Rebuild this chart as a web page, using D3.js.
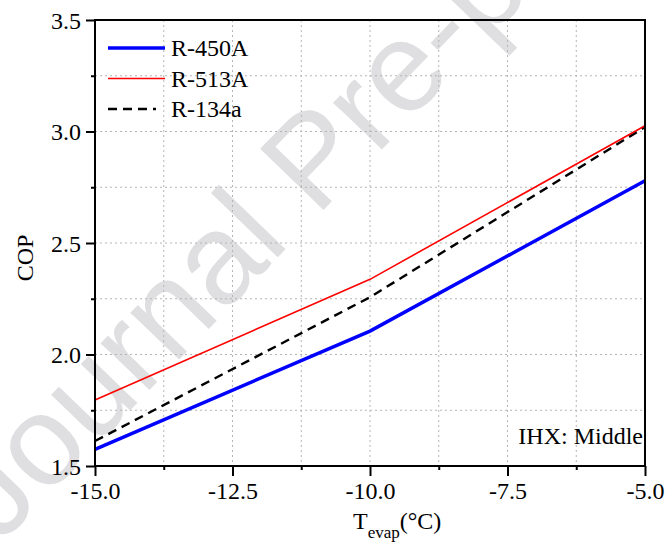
<!DOCTYPE html>
<html>
<head>
<meta charset="utf-8">
<script src="https://cdn.jsdelivr.net/npm/d3@7"></script>
<style>
  body { margin: 0; background: #fff; }
  svg { display: block; font-family: "Liberation Serif", "Times New Roman", serif; }
</style>
</head>
<body>
<div id="chart"></div>
<script>
// data
const tEvap = [-15, -10, -5];
const cop450A = [1.575, 2.105, 2.779];
const cop513A = [1.796, 2.337, 3.026];
const cop134a = [1.612, 2.257, 3.02];
const seriesNames = ["R-450A", "R-513A", "R-134a"];
const xTicks = [-15, -12.5, -10, -7.5, -5];
const xMinor = [-13.75, -11.25, -8.75, -6.25];
const yTicks = [1.5, 2.0, 2.5, 3.0, 3.5];
const yMinor = [1.75, 2.25, 2.75, 3.25];

const width = 667, height = 559;
const margin = { left: 95, right: 22, top: 20, bottom: 93 };

const svg = d3.select("#chart")
  .append("svg")
  .attr("width", width)
  .attr("height", height);

// watermark behind everything
svg.append("text")
  .attr("transform", "translate(0,545) rotate(-46)")
  .attr("font-family", "'Liberation Sans', Arial, sans-serif")
  .attr("font-size", 128)
  .attr("fill", "#dfdfe1")
  .text("Journal Pre-proof");

const x = d3.scaleLinear().domain([-15, -5]).range([margin.left, width - margin.right]);
const y = d3.scaleLinear().domain([1.5, 3.5]).range([height - margin.bottom, margin.top]);

// dotted grid (major + minor)
const grid = svg.append("g")
  .attr("stroke", "#b4b4b4")
  .attr("stroke-width", 1)
  .attr("stroke-dasharray", "2,3");

grid.selectAll(".gx")
  .data(xTicks.slice(1, -1).concat(xMinor))
  .enter()
  .append("line")
  .attr("x1", d => x(d)).attr("x2", d => x(d))
  .attr("y1", y(3.5)).attr("y2", y(1.5));

grid.selectAll(".gy")
  .data(yTicks.slice(1, -1).concat(yMinor))
  .enter()
  .append("line")
  .attr("x1", x(-15)).attr("x2", x(-5))
  .attr("y1", d => y(d)).attr("y2", d => y(d));

// lines
const line = d3.line()
  .x(d => x(d[0]))
  .y(d => y(d[1]));

const series = [
  { name: seriesNames[0], values: cop450A, color: "#0000ff", w: 3.5, dash: null },
  { name: seriesNames[1], values: cop513A, color: "#ff0000", w: 1.6, dash: null },
  { name: seriesNames[2], values: cop134a, color: "#000000", w: 2.4, dash: "9,6" }
];

svg.append("g")
  .selectAll("path")
  .data(series.slice().reverse())
  .enter()
  .append("path")
  .attr("fill", "none")
  .attr("stroke", d => d.color)
  .attr("stroke-width", d => d.w)
  .attr("stroke-dasharray", d => d.dash)
  .attr("d", d => line(tEvap.map((t, i) => [t, d.values[i]])));

// axes
const fmt = d => d.toFixed(1);

svg.append("g")
  .attr("transform", `translate(0,${y(1.5)})`)
  .call(d3.axisBottom(x).tickValues(xTicks).tickFormat(fmt).tickSize(10).tickPadding(6));

svg.append("g")
  .attr("transform", `translate(0,${y(1.5)})`)
  .call(d3.axisBottom(x).tickValues(xMinor).tickFormat("").tickSize(4));

const yAxis = svg.append("g")
  .attr("transform", `translate(${x(-15)},0)`)
  .call(d3.axisLeft(y).tickValues(yTicks).tickFormat(fmt).tickSize(9).tickPadding(5));

svg.append("g")
  .attr("transform", `translate(${x(-15)},0)`)
  .call(d3.axisLeft(y).tickValues(yMinor).tickFormat("").tickSize(4));

svg.selectAll(".domain").remove();
svg.selectAll(".tick line").attr("stroke", "#000").attr("stroke-width", 2);
svg.selectAll(".tick text")
  .attr("fill", "#000")
  .attr("font-size", 24)
  .attr("font-family", "'Liberation Serif', 'Times New Roman', serif");
yAxis.selectAll(".tick text").attr("dy", "0.34em");

// frame
svg.append("rect")
  .attr("x", x(-15)).attr("y", y(3.5))
  .attr("width", x(-5) - x(-15))
  .attr("height", y(1.5) - y(3.5))
  .attr("fill", "none")
  .attr("stroke", "#000")
  .attr("stroke-width", 2);

// axis titles
svg.append("text")
  .attr("transform", `translate(33,${(y(1.5) + y(3.5)) / 2 + 15}) rotate(-90)`)
  .attr("text-anchor", "middle")
  .attr("font-size", 24)
  .text("COP");

const xt = svg.append("text")
  .attr("x", 353)
  .attr("y", 529)
  .attr("font-size", 24);
xt.append("tspan").text("T");
xt.append("tspan").attr("font-size", 17).attr("dy", 9).text("evap");
xt.append("tspan").attr("dy", -9).text("(°C)");

// annotation
svg.append("text")
  .attr("x", 643)
  .attr("y", 444)
  .attr("text-anchor", "end")
  .attr("font-size", 24)
  .text("IHX: Middle");

// legend
const legend = svg.append("g")
  .selectAll("g")
  .data(series)
  .enter()
  .append("g")
  .attr("transform", (d, i) => `translate(108,${48 + i * 30.5})`);

legend.append("line")
  .attr("x1", 0).attr("x2", d => d.dash ? 48 : 57)
  .attr("stroke", d => d.color)
  .attr("stroke-width", d => d.w)
  .attr("stroke-dasharray", d => d.dash);

legend.append("text")
  .attr("x", 63)
  .attr("y", 8)
  .attr("font-size", 24)
  .text(d => d.name);
</script>
</body>
</html>
